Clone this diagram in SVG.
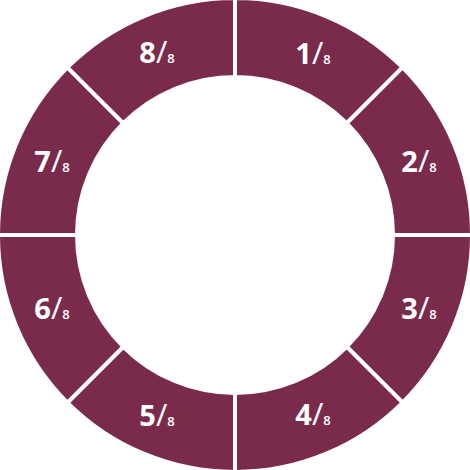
<svg xmlns="http://www.w3.org/2000/svg" width="470" height="470" viewBox="0 0 470 470">
<style>
.seg{fill:#7A2A4A;stroke:#fff;stroke-width:4;stroke-linejoin:miter}
.lbl{font-family:"Open Sans","DejaVu Sans",sans-serif;fill:#fff;text-anchor:middle}
.n{font-size:29px;font-weight:700}
.s{font-size:31px;font-weight:400}
.d{font-size:13px;font-weight:600}
</style>
<rect width="470" height="470" fill="#fff"/>
<g id="seg1"><path class="seg" d="M235,-2 A237,237 0 0 1 402.58,67.42 L346.72,123.28 A158,158 0 0 0 235,77 Z"/><text class="lbl" x="313" y="64"><tspan class="n">1</tspan><tspan class="s">/</tspan><tspan class="d">8</tspan></text></g>
<g id="seg2"><path class="seg" d="M402.58,67.42 A237,237 0 0 1 472,235 L393,235 A158,158 0 0 0 346.72,123.28 Z"/><text class="lbl" x="419" y="172"><tspan class="n">2</tspan><tspan class="s">/</tspan><tspan class="d">8</tspan></text></g>
<g id="seg3"><path class="seg" d="M472,235 A237,237 0 0 1 402.58,402.58 L346.72,346.72 A158,158 0 0 0 393,235 Z"/><text class="lbl" x="419" y="319"><tspan class="n">3</tspan><tspan class="s">/</tspan><tspan class="d">8</tspan></text></g>
<g id="seg4"><path class="seg" d="M402.58,402.58 A237,237 0 0 1 235,472 L235,393 A158,158 0 0 0 346.72,346.72 Z"/><text class="lbl" x="313" y="425"><tspan class="n">4</tspan><tspan class="s">/</tspan><tspan class="d">8</tspan></text></g>
<g id="seg5"><path class="seg" d="M235,472 A237,237 0 0 1 67.42,402.58 L123.28,346.72 A158,158 0 0 0 235,393 Z"/><text class="lbl" x="157" y="426"><tspan class="n">5</tspan><tspan class="s">/</tspan><tspan class="d">8</tspan></text></g>
<g id="seg6"><path class="seg" d="M67.42,402.58 A237,237 0 0 1 -2,235 L77,235 A158,158 0 0 0 123.28,346.72 Z"/><text class="lbl" x="52" y="319"><tspan class="n">6</tspan><tspan class="s">/</tspan><tspan class="d">8</tspan></text></g>
<g id="seg7"><path class="seg" d="M-2,235 A237,237 0 0 1 67.42,67.42 L123.28,123.28 A158,158 0 0 0 77,235 Z"/><text class="lbl" x="52" y="172"><tspan class="n">7</tspan><tspan class="s">/</tspan><tspan class="d">8</tspan></text></g>
<g id="seg8"><path class="seg" d="M67.42,67.42 A237,237 0 0 1 235,-2 L235,77 A158,158 0 0 0 123.28,123.28 Z"/><text class="lbl" x="157" y="63"><tspan class="n">8</tspan><tspan class="s">/</tspan><tspan class="d">8</tspan></text></g>
<g id="connectors"/>
</svg>
